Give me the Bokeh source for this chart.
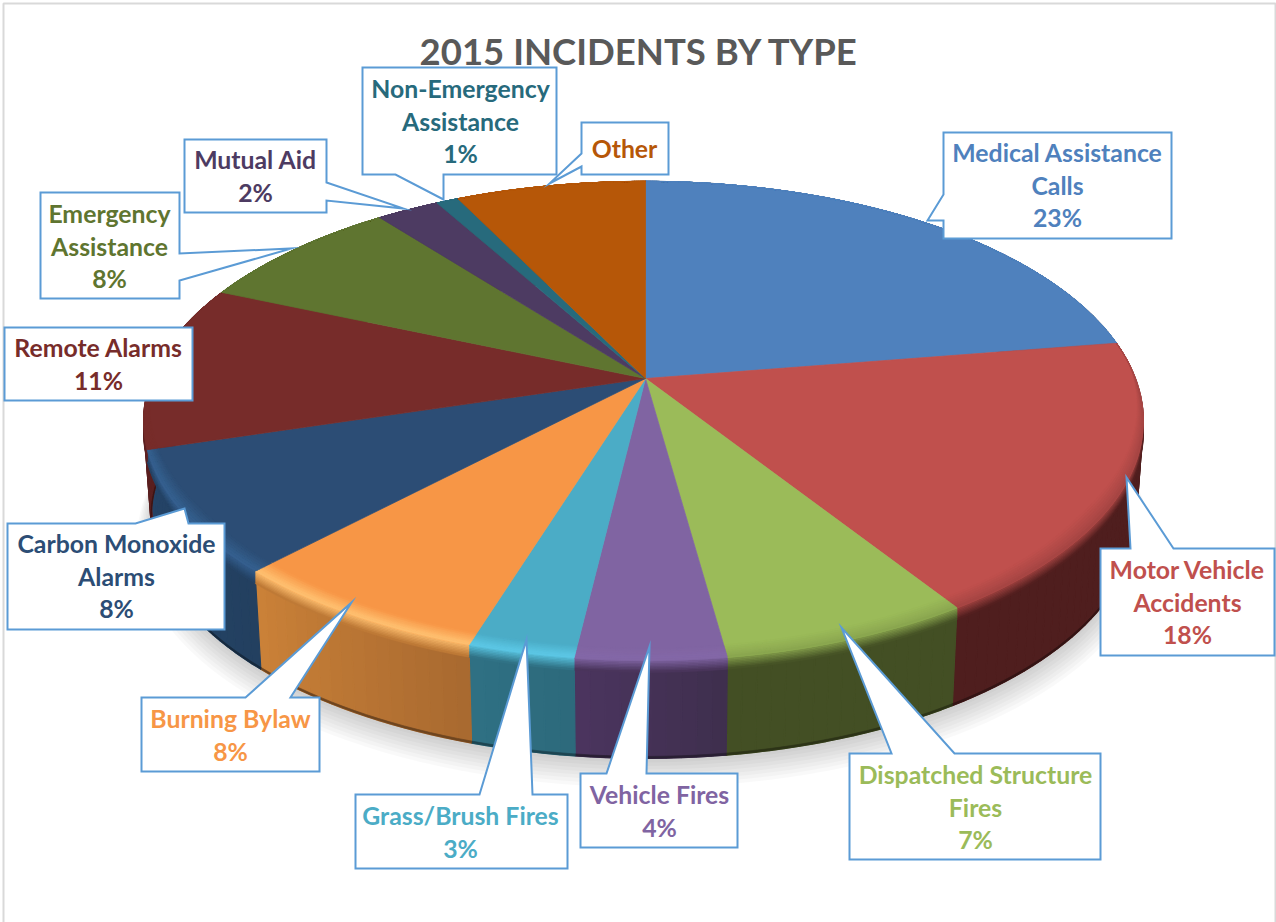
import math
from bokeh.plotting import figure
from bokeh.models import ColumnDataSource, Range1d
from bokeh.core.properties import value
from bokeh.embed import file_html
from bokeh.resources import INLINE

# ---- data ----
categories = ["Medical Assistance Calls", "Motor Vehicle Accidents", "Dispatched Structure Fires",
              "Vehicle Fires", "Grass/Brush Fires", "Burning Bylaw", "Carbon Monoxide Alarms",
              "Remote Alarms", "Emergency Assistance", "Mutual Aid", "Non-Emergency Assistance", "Other"]
shares = [22.5, 18.4, 6.9, 4.1, 2.9, 7.3, 8.2, 11.2, 8.0, 2.4, 0.85, 7.25]
percent_labels = ["23%", "18%", "7%", "4%", "3%", "8%", "8%", "11%", "8%", "2%", "1%", ""]
title_text = "2015 INCIDENTS BY TYPE"

# ---- style ----
top_colors = ["#4F81BD", "#C0504D", "#9BBB59", "#8064A2", "#4BACC6", "#F79646",
              "#2C4D75", "#772C2A", "#5F7530", "#4D3B62", "#276A7C", "#B65708"]
rim_colors = ["#4F81BD", "#A84644", "#8CA850", "#8468A8", "#5CC8E6", "#FFC070",
              "#35608F", "#772C2A", "#5F7530", "#4D3B62", "#276A7C", "#B65708"]
wall_left = ["#2A4566", "#4F1E1E", "#434F24", "#4C3560", "#2F7184", "#CC8238",
             "#244468", "#5A1F1F", "#3F4F20", "#33283F", "#1A4652", "#7A3A05"]
wall_right = ["#2A4566", "#4F1E1E", "#434F24", "#3F2F4E", "#2D6A7C", "#A96A30",
              "#234060", "#5A1F1F", "#3F4F20", "#33283F", "#1A4652", "#7A3A05"]
line_blue = "#5B9BD5"
FONT = "Lato"

# ---- projection of the pie (pixel space of the picture) ----
CX, CY, A_RIGHT, A_LEFT, B, K = 645.0, 378.0, 490.0, 494.0, 232.0, 0.177
DEPTH, BOTTOM_SCALE = 98.0, 0.985


def project(theta, r=1.0, dy=0.0, sx=1.0):
    u, v = r * math.sin(theta), r * math.cos(theta)
    w = 1 + K * v
    a = A_RIGHT if u >= 0 else A_LEFT
    return CX + sx * a * u / w, CY - B * v / w + dy


def hex2rgb(c):
    return tuple(int(c[i:i + 2], 16) for i in (1, 3, 5))


def mix(c1, c2, t):
    a, b = hex2rgb(c1), hex2rgb(c2)
    return "#%02x%02x%02x" % tuple(round(a[i] + (b[i] - a[i]) * t) for i in range(3))


total = sum(shares)
edges = [0.0]
for s in shares:
    edges.append(edges[-1] + s / total * 2 * math.pi)


def steps(t0, t1, step=math.radians(1.5)):
    n = max(1, math.ceil((t1 - t0) / step))
    return [t0 + (t1 - t0) * i / n for i in range(n + 1)]


def front(theta):
    return max(0.0, min(1.0, -math.cos(theta) * 1.6 + 0.1))


p = figure(width=1276, height=922, x_range=Range1d(0, 1276), y_range=Range1d(922, 0),
           x_axis_type=None, y_axis_type=None, toolbar_location=None, output_backend="svg",
           min_border=0, outline_line_color=None, margin=(0, 0, 0, 0),
           background_fill_color="white", border_fill_color="white")
p.grid.visible = False

# page frame
p.multi_line(xs=[[3, 3, 1275, 1275]], ys=[[922, 3, 3, 922]], line_color="#D9D9D9", line_width=2)

# soft shadow below the pie
th = steps(0, 2 * math.pi, math.radians(2))
for i in range(8):
    pts = [project(t, 1.0 + 0.004 * i, DEPTH + 4 + 2.2 * i, BOTTOM_SCALE) for t in th]
    p.patch([q[0] for q in pts], [q[1] for q in pts], fill_color="#000000", fill_alpha=0.022, line_color=None)


def layer(xs, ys, cols, lw=0.7):
    src = ColumnDataSource(dict(xs=xs, ys=ys, c=cols))
    p.patches("xs", "ys", source=src, fill_color="c", line_color="c", line_width=lw)


# walls
xs, ys, cs = [], [], []
for i in range(len(shares)):
    t0, t1 = edges[i], edges[i + 1]
    ts = steps(t0, t1, math.radians(1.5))
    for a, b in zip(ts[:-1], ts[1:]):
        q0 = project(a); q1 = project(b)
        q2 = project(b, 1, DEPTH, BOTTOM_SCALE); q3 = project(a, 1, DEPTH, BOTTOM_SCALE)
        t = (a - t0) / max(t1 - t0, 1e-6)
        xs.append([q0[0], q1[0], q2[0], q3[0]]); ys.append([q0[1], q1[1], q2[1], q3[1]])
        cs.append(mix(wall_right[i], wall_left[i], t))
layer(xs, ys, cs, 1.2)

# dark foot of the wall
xs, ys, cs = [], [], []
for i in range(len(shares)):
    ts = steps(edges[i], edges[i + 1])
    up = [project(t, 1, DEPTH - 2, BOTTOM_SCALE) for t in ts]
    dn = [project(t, 1, DEPTH, BOTTOM_SCALE) for t in ts[::-1]]
    xs.append([q[0] for q in up + dn]); ys.append([q[1] for q in up + dn])
    cs.append(mix(wall_right[i], "#000000", 0.35))
layer(xs, ys, cs)


def band_color(i, d):
    if d < -1:
        return mix(top_colors[i], rim_colors[i], (d + 10) / 9)
    mid = mix(wall_left[i], wall_right[i], 0.5)
    return mix(rim_colors[i], mid, min(1.0, (d + 1) / 13))


def rim_point(t, d):
    # above the seam the rim stays inside the slice; below it, it drops down the wall
    if d < 0:
        return project(t, 1 + d * front(t) / 270.0)
    return project(t, 1, d)


def bands(lo, hi, n):
    xs, ys, cs = [], [], []
    for i in range(len(shares)):
        ts = steps(edges[i], edges[i + 1])
        for j in range(n):
            d0 = lo + (hi - lo) * j / n
            d1 = lo + (hi - lo) * (j + 1) / n
            up = [rim_point(t, d0) for t in ts]
            dn = [rim_point(t, d1) for t in ts[::-1]]
            xs.append([q[0] for q in up + dn]); ys.append([q[1] for q in up + dn])
            cs.append(band_color(i, (d0 + d1) / 2))
    layer(xs, ys, cs)


bands(0, 12, 8)

# top surface
xs, ys, cs = [], [], []
for i in range(len(shares)):
    pts = [project(t) for t in steps(edges[i], edges[i + 1])]
    xs.append([CX] + [q[0] for q in pts]); ys.append([CY] + [q[1] for q in pts])
    cs.append(top_colors[i])
layer(xs, ys, cs)

bands(-10, 0, 7)

# ---- callouts: outline polygons in picture pixels ----
callouts = [
    [(943, 132), (1171, 132), (1171, 238), (943, 238), (943, 220), (927, 220), (943, 194)],
    [(1100, 548), (1130, 548), (1126, 477), (1173, 548), (1274, 548), (1274, 655), (1100, 655)],
    [(849, 753), (891, 753), (841, 627), (954, 753), (1100, 753), (1100, 859), (849, 859)],
    [(580, 773), (606, 773), (649, 646), (646, 773), (737, 773), (737, 847), (580, 847)],
    [(355, 794), (479, 794), (526, 639), (532, 794), (567, 794), (567, 868), (355, 868)],
    [(141, 697), (245, 697), (351, 602), (290, 697), (319, 697), (319, 771), (141, 771)],
    [(7, 523), (135, 523), (184, 508), (188, 523), (224, 523), (224, 629), (7, 629)],
    [(4, 327), (192, 327), (192, 400), (4, 400)],
    [(40, 192), (179, 192), (179, 253), (291, 248), (179, 280), (179, 298), (40, 298)],
    [(184, 139), (326, 139), (326, 182), (403, 208), (326, 200), (326, 212), (184, 212)],
    [(362, 67), (556, 67), (556, 174), (443, 174), (443, 199), (395, 174), (362, 174)],
    [(581, 122), (668, 122), (668, 174), (581, 174), (581, 166), (549, 183), (581, 153)],
]
p.patches([[q[0] for q in c] for c in callouts], [[q[1] for q in c] for c in callouts],
          fill_color="white", line_color=line_blue, line_width=2, line_join="miter")

# ---- label text ----
label_lines = [
    ["Medical Assistance", "Calls"], ["Motor Vehicle", "Accidents"], ["Dispatched Structure", "Fires"],
    ["Vehicle Fires"], ["Grass/Brush Fires"], ["Burning Bylaw"], ["Carbon Monoxide", "Alarms"],
    ["Remote Alarms"], ["Emergency", "Assistance"], ["Mutual Aid"], ["Non-Emergency", "Assistance"], ["Other"],
]
label_anchor = [(1057, 152), (1187, 569), (975, 774), (659, 794), (460, 815), (230, 718),
                (116, 543), (98, 347), (109, 213), (255, 159), (460, 88), (624, 148)]
tx, ty, tt, tc = [], [], [], []
for i, lines in enumerate(label_lines):
    rows = lines + ([percent_labels[i]] if percent_labels[i] else [])
    for j, s in enumerate(rows):
        tx.append(label_anchor[i][0]); ty.append(label_anchor[i][1] + j * 32.5)
        tt.append(s); tc.append(top_colors[i])
p.text(tx, ty, text=tt, text_color=tc, text_font=value(FONT), text_font_style="bold",
       text_font_size="24.8px", text_align="center", text_baseline="middle")

p.text([639], [50], text=[title_text], text_color="#595959", text_font=value(FONT),
       text_font_style="bold", text_font_size="36.5px", text_align="center", text_baseline="middle")

open("out.html", "w").write(file_html(p, INLINE))
